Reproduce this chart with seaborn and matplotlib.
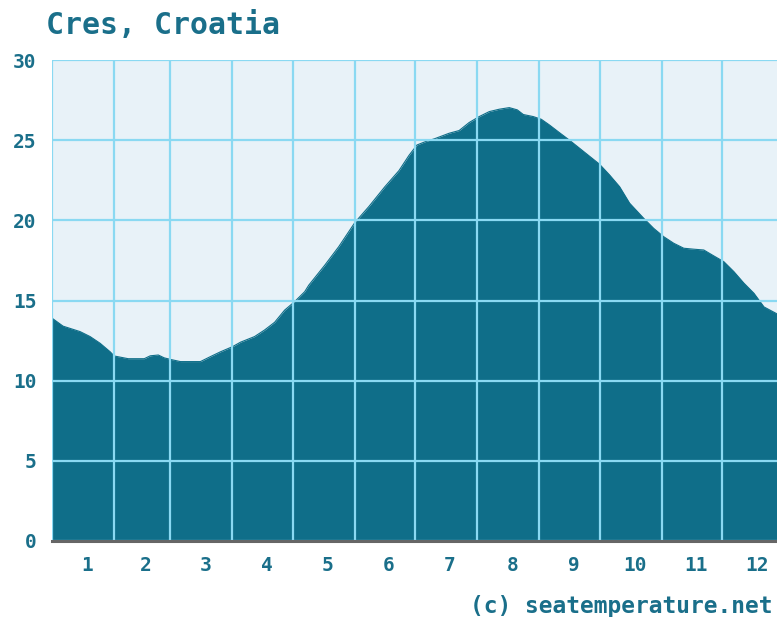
import matplotlib
matplotlib.use("Agg")
import matplotlib.pyplot as plt
import matplotlib.transforms as mtransforms
import seaborn as sns
import pandas as pd
import numpy as np

title = "Cres, Croatia"
credit = "(c) seatemperature.net"
month_labels = ["1", "2", "3", "4", "5", "6", "7", "8", "9", "10", "11", "12"]
month_days = [31, 28, 31, 30, 31, 30, 31, 31, 30, 31, 30, 31]

# day of year and sea temperature (°C)
days = [0, 5.5, 14, 19, 24, 29, 31, 38, 46, 49, 53, 56, 60, 64, 74, 79, 84, 90,
        94, 101, 106, 111, 116, 121, 126, 128, 136, 143, 151, 158, 166, 173, 178,
        182, 186, 191, 198, 203, 208, 213, 218, 223, 228, 232, 235, 240, 244, 248,
        253, 258, 263, 268, 273, 278, 283, 288, 295, 300, 305, 310, 315, 320, 325,
        330, 335, 340, 345, 350, 355, 361, 365]
temps = [13.9, 13.4, 13.06, 12.75, 12.33, 11.8, 11.54, 11.37, 11.37, 11.55, 11.6,
         11.42, 11.3, 11.19, 11.19, 11.5, 11.8, 12.12, 12.4, 12.75, 13.16, 13.64,
         14.4, 14.93, 15.55, 15.95, 17.2, 18.36, 19.86, 20.86, 22.1, 23.1, 24.05,
         24.7, 24.9, 25.1, 25.43, 25.6, 26.1, 26.47, 26.78, 26.93, 27.03, 26.89,
         26.6, 26.47, 26.3, 25.95, 25.47, 25.0, 24.5, 24.0, 23.5, 22.83, 22.1,
         21.07, 20.13, 19.5, 18.98, 18.57, 18.26, 18.2, 18.15, 17.78, 17.42, 16.8,
         16.08, 15.45, 14.6, 14.2, 13.9]

df = pd.DataFrame({"day": days, "temp": temps})

sns.set_style("white")
plt.rcParams["font.family"] = ["DejaVu Sans Mono", "DejaVu Sans"]

fill_c = "#0f6e89"
bg_c = "#e8f2f8"
grid_c = "#8ad9f2"
text_c = "#1a6f8a"

fig = plt.figure(figsize=(7.77, 6.17), dpi=100)
ax = fig.add_axes([52 / 777, 1 - 541 / 617, 1 - 52 / 777, (541 - 60) / 617])
ax.set_facecolor(bg_c)

sns.lineplot(data=df, x="day", y="temp", ax=ax, color=fill_c, linewidth=0.8)
ax.fill_between(df["day"], 0, df["temp"], color=fill_c, linewidth=0)

bounds = np.concatenate([[0], np.cumsum(month_days)])
centers = (bounds[:-1] + bounds[1:]) / 2
ax.set_xticks(bounds)
ax.set_xticklabels([""] * len(bounds))
ax.set_xticks(centers, minor=True)
ax.set_xticklabels(month_labels, minor=True)
ax.set_yticks([0, 5, 10, 15, 20, 25, 30])

ax.set_xlim(0, 361.5)
ax.set_ylim(0, 30)
ax.set_xlabel("")
ax.set_ylabel("")

ax.set_axisbelow(False)
ax.grid(True, which="major", color=grid_c, linewidth=1.6)
ax.tick_params(axis="both", which="both", length=0)
ax.tick_params(axis="x", which="minor", pad=11, labelsize=14, labelcolor=text_c)
ax.tick_params(axis="y", which="major", pad=11, labelsize=14, labelcolor=text_c)
offset = mtransforms.ScaledTranslation(4 / 100, 0, fig.dpi_scale_trans)
for lab in ax.get_xticklabels(minor=True):
    lab.set_fontweight("bold")
    lab.set_transform(lab.get_transform() + offset)
for lab in ax.get_yticklabels():
    lab.set_fontweight("bold")

for s in ["top", "right", "left"]:
    ax.spines[s].set_visible(False)
ax.spines["bottom"].set_color("#666666")
ax.spines["bottom"].set_linewidth(2.2)
ax.spines["bottom"].set_zorder(5)

fig.text(46 / 777, 1 - 25 / 617, title, ha="left", va="center",
         fontsize=21.5, fontweight="bold", color=text_c)
fig.text(773 / 777, 1 - 606 / 617, credit, ha="right", va="center",
         fontsize=16.5, fontweight="bold", color=text_c)

fig.savefig("out.png", dpi=100)
